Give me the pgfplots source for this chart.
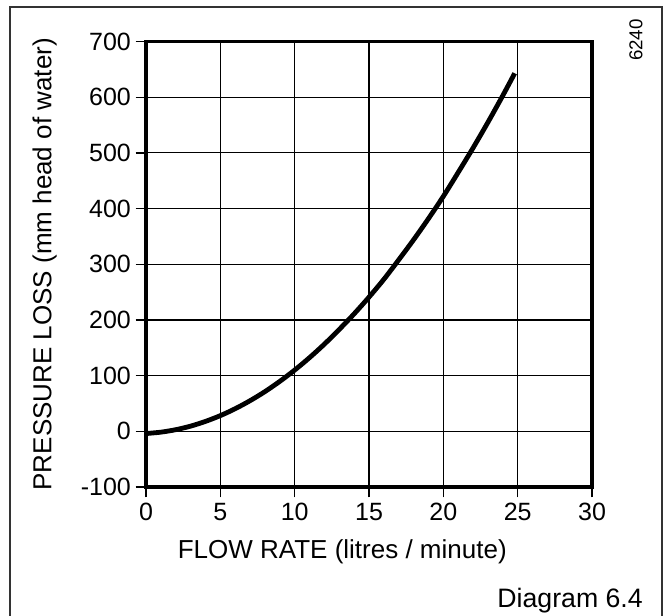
\documentclass[border=0pt]{standalone}
\usepackage{fontspec}
\setmainfont{Liberation Sans}
\usepackage{pgfplots}
\pgfplotsset{compat=1.18}
\begin{document}
\begin{tikzpicture}
\useasboundingbox (0,0) rectangle (499.5pt,461.25pt);
\draw[line width=0.9pt, black!80] (7.5pt,-3.75pt) rectangle (496.5pt,456pt);
\begin{axis}[
  at={(109.5pt,96pt)}, anchor=south west,
  scale only axis, width=334.5pt, height=334.1pt,
  xmin=0, xmax=30, ymin=-100, ymax=700,
  xtick={0,5,10,15,20,25,30},
  ytick={-100,0,100,200,300,400,500,600,700},
  yticklabels={-100,0,100,200,300,400,500,600,700},
  xticklabels={0,5,10,15,20,25,30},
  xtick pos=bottom, ytick pos=left,
  tick align=outside, major tick length=7.8pt,
  every tick/.style={black, line width=0.9pt},
  grid=major,
  major grid style={black, line width=0.85pt},
  axis line style={line width=2.5pt},
  tick label style={font=\fontsize{18.75}{20}\selectfont},
  xticklabel style={yshift=-1pt},
  xlabel={FLOW RATE (litres / minute)},
  ylabel={PRESSURE LOSS (mm head of water)},
  label style={font=\fontsize{19.5}{22}\selectfont},
  xlabel style={at={(axis description cs:0.44,-0.146)}, anchor=center},
  ylabel style={at={(axis description cs:-0.227,0.5)}, anchor=center},
  clip=false,
]
\addplot[black, line width=3.6pt, smooth] coordinates {
(0,-4) (1,-1.5) (2,2.9) (3,9.3) (4,17.8) (5,28.2) (6,40.6) (7,55) (8,71.3)
(9,89.7) (10,110) (11,132.3) (12,156.6) (13,183) (14,211) (15,241) (16,273)
(17,308) (18,344) (19,382) (20,422) (21,465) (22,509) (23,555) (24,603) (24.8,643)
};
\end{axis}
\node[rotate=90, font=\fontsize{14}{16}\selectfont, anchor=center, inner sep=0pt] at (477pt,431.25pt) {6240};
\node[anchor=base east, font=\fontsize{20}{22}\selectfont, inner sep=0pt] at (482.25pt,5.5pt) {Diagram 6.4};
\end{tikzpicture}
\end{document}
